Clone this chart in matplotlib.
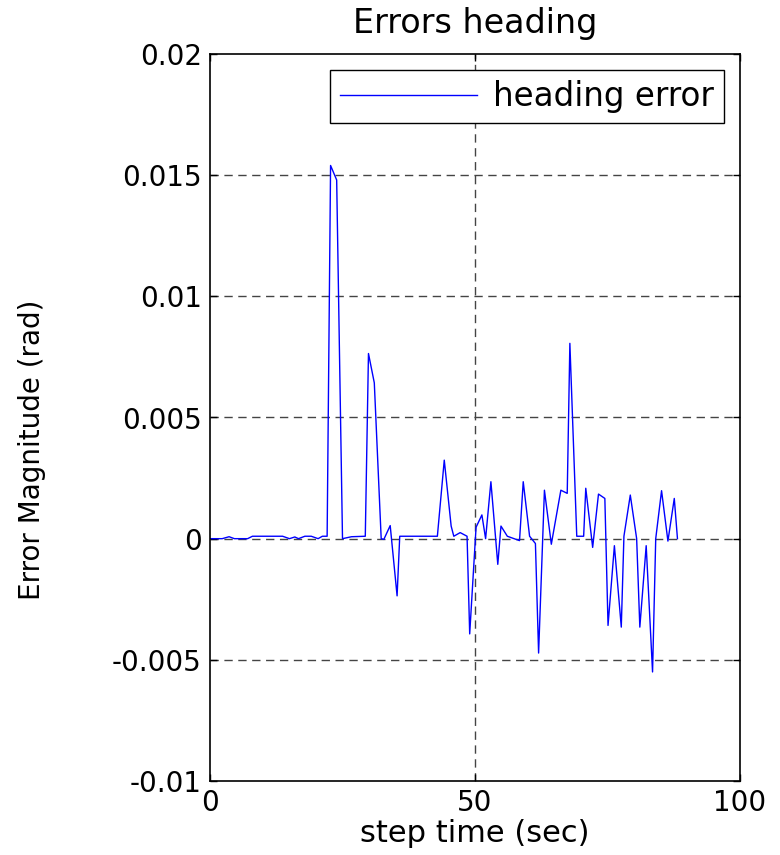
import matplotlib
matplotlib.use("Agg")
import matplotlib.pyplot as plt
import numpy as np

# step time (sec) and heading error (rad)
time_s = [0, 2.3, 3.6, 4.6, 7.1, 8.0, 13.7, 15.0, 16.0, 16.7, 17.9, 19.1, 20.4, 21.2,
          22.1, 22.75, 23.9, 25.0, 26.7, 29.3, 29.9, 31.0, 32.3, 32.8, 34.0, 35.3,
          35.8, 42.9, 44.2, 45.5, 46.0, 47.2, 48.5, 49.0, 50.2, 51.3, 52.0, 53.0,
          54.3, 54.9, 56.1, 58.4, 59.1, 60.3, 61.4, 62.0, 63.1, 64.4, 66.2, 67.4,
          67.9, 69.2, 70.5, 70.9, 72.2, 73.3, 74.5, 75.1, 76.3, 77.6, 78.1, 79.3,
          80.5, 81.1, 82.3, 83.5, 84.1, 85.2, 86.4, 87.6, 88.2]
heading_err_milli = [0, 0, 0.08, 0, 0, 0.1, 0.1, 0, 0.07, 0, 0.1, 0.1, 0, 0.1,
                     0.1, 15.4, 14.8, 0, 0.08, 0.1, 7.64, 6.43, 0, -0.03, 0.54, -2.36,
                     0.1, 0.1, 3.24, 0.52, 0.1, 0.25, 0.1, -3.93, 0.47, 0.98, 0, 2.35,
                     -1.06, 0.52, 0.1, -0.08, 2.35, 0.1, -0.2, -4.72, 2.0, -0.23, 2.0, 1.87,
                     8.06, 0.1, 0.1, 2.08, -0.36, 1.84, 1.66, -3.58, -0.29, -3.65, 0.1, 1.8,
                     0, -3.65, -0.29, -5.5, 0, 1.98, -0.1, 1.66, 0]
heading_err = [v / 1000.0 for v in heading_err_milli]

x_ticks = [0, 50, 100]
y_ticks = [-0.01, -0.005, 0, 0.005, 0.01, 0.015, 0.02]
y_tick_labels = ["-0.01", "-0.005", "0", "0.005", "0.01", "0.015", "0.02"]

plt.rcParams['font.family'] = ['DejaVu Sans']

fig = plt.figure(figsize=(7.8, 8.55), dpi=100)
ax = fig.add_axes([210/780, 1 - 781/855, 530/780, 727/855])

ax.plot(time_s, heading_err, color=(0, 0, 1), lw=1.0, label="heading error")

ax.set_xlim(0, 100)
ax.set_ylim(-0.01, 0.02)
ax.set_xticks(x_ticks)
ax.set_xticklabels([str(t) for t in x_ticks])
ax.set_yticks(y_ticks)
ax.set_yticklabels(y_tick_labels)

ax.grid(True, color='#444444', linestyle=(0, (6, 4)), linewidth=1.0)
xgl = ax.xaxis.get_gridlines()
for i, gl in enumerate(xgl):
    if i in (0, len(xgl) - 1):
        gl.set_visible(False)
ygl = ax.yaxis.get_gridlines()
for i, gl in enumerate(ygl):
    if i in (0, len(ygl) - 1):
        gl.set_visible(False)

ax.tick_params(direction='in', length=5, width=1, top=True, right=True,
               labelsize=20, pad=6)
for s in ax.spines.values():
    s.set_linewidth(1.2)

ax.set_title("Errors heading", fontsize=24, pad=15)
ax.set_xlabel("step time (sec)", fontsize=22, labelpad=1)
ax.set_ylabel("Error Magnitude (rad)", fontsize=20)
ax.yaxis.set_label_coords(-0.31, 0.455)

leg = ax.legend(loc='upper right', fontsize=23.5, handlelength=4.2,
                fancybox=False, framealpha=1, edgecolor='black',
                borderaxespad=0.5, borderpad=0.3, handletextpad=0.5)
leg.get_frame().set_linewidth(1.0)

fig.savefig("out.png", dpi=100)
